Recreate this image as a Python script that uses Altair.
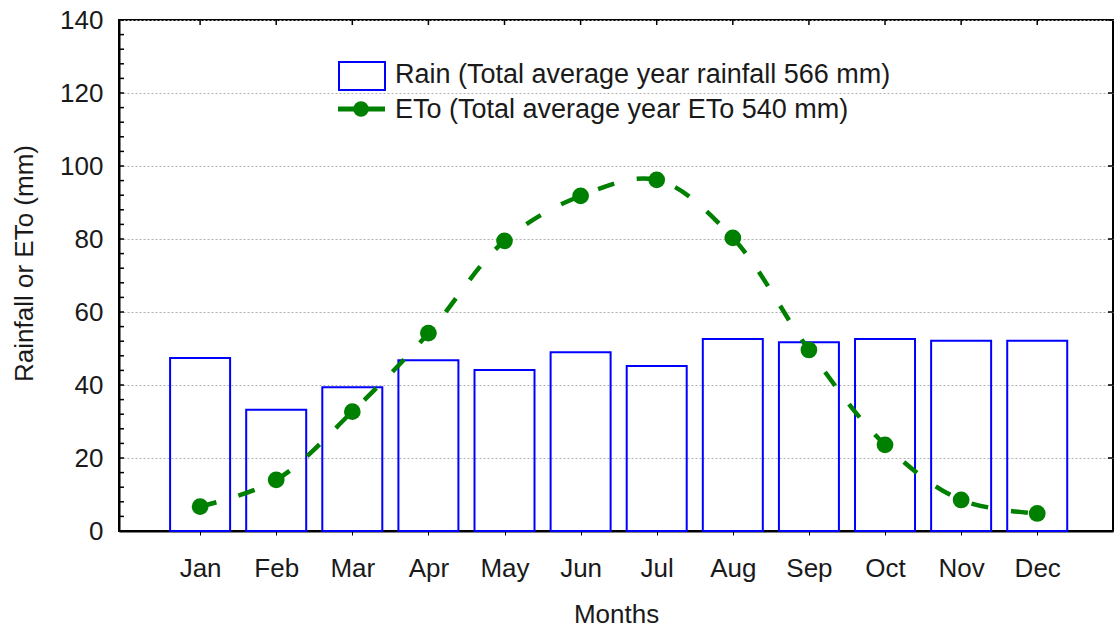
import json
import altair as alt
import pandas as pd

months = ["Jan", "Feb", "Mar", "Apr", "May", "Jun", "Jul", "Aug", "Sep", "Oct", "Nov", "Dec"]
rain = [47.4, 33.2, 39.4, 46.8, 44.1, 49.0, 45.2, 52.6, 51.7, 52.6, 52.1, 52.1]
eto = [6.7, 14.0, 32.7, 54.2, 79.5, 91.8, 96.2, 80.3, 49.6, 23.6, 8.5, 4.8]
legend_labels = ["Rain (Total average year rainfall 566 mm)", "ETo (Total average year ETo 540 mm)"]
y_ticks = list(range(0, 141, 20))
minor_ticks = list(range(0, 141, 4))

FONT = "Liberation Sans"
BLUE = "#0000FF"
GREEN = "#008000"
W, H = 994, 511

df = pd.DataFrame({"idx": list(range(1, 13)), "month": months, "rain": rain, "eto": eto})
minor_df = pd.DataFrame({"v": minor_ticks})
major_df = pd.DataFrame({"v": y_ticks})

xscale = alt.Scale(domain=[0, 12.93], nice=False, zero=False)
yscale = alt.Scale(domain=[0, 140], nice=False)
label_expr = json.dumps(months) + "[datum.value - 1]"

xaxis = alt.Axis(values=list(range(1, 13)), labelExpr=label_expr, title="Months",
                 grid=False, tickSize=4, tickColor="black", domainColor="black",
                 domainWidth=2, labelFontSize=26, labelFont=FONT, labelColor="#1a1a1a",
                 labelPadding=20, titleFontSize=26, titleFont=FONT, titleFontWeight="normal",
                 titleColor="#1a1a1a", titlePadding=20)
yaxis = alt.Axis(values=y_ticks, title="Rainfall or ETo (mm)", grid=True, gridDash=[2, 2],
                 gridColor="#b0b0b0", gridWidth=1, tickSize=0, domainColor="black",
                 domainWidth=2, labelFontSize=26, labelFont=FONT, labelColor="#1a1a1a",
                 labelPadding=16, titleFontSize=26, titleFont=FONT, titleFontWeight="normal",
                 titleColor="#1a1a1a", titlePadding=22, titleY=243)

base = alt.Chart(df)

bars = base.mark_bar(width=60, fill="white", fillOpacity=0, stroke=BLUE, strokeWidth=2).encode(
    x=alt.X("idx:Q", scale=xscale, axis=xaxis),
    y=alt.Y("rain:Q", scale=yscale, axis=yaxis),
)

line = base.mark_line(color=GREEN, strokeWidth=4.5, strokeDash=[17, 23],
                      interpolate="catmull-rom").encode(
    x=alt.X("idx:Q", scale=xscale), y=alt.Y("eto:Q", scale=yscale))

points = base.mark_circle(color=GREEN, opacity=1, size=280).encode(
    x=alt.X("idx:Q", scale=xscale), y=alt.Y("eto:Q", scale=yscale))

left_ticks = alt.Chart(minor_df).mark_rule(color="black", strokeWidth=1.5).encode(
    y=alt.Y("v:Q", scale=yscale), x=alt.value(0), x2=alt.value(5))
right_ticks = alt.Chart(major_df).mark_rule(color="black", strokeWidth=1.5).encode(
    y=alt.Y("v:Q", scale=yscale), x=alt.value(W - 5), x2=alt.value(W))
top_ticks = base.mark_rule(color="black", strokeWidth=1.5).encode(
    x=alt.X("idx:Q", scale=xscale), y=alt.value(0), y2=alt.value(5))

leg_df = pd.DataFrame({"label": legend_labels})
leg_rect = alt.Chart(leg_df.iloc[[0]]).mark_rect(fill="white", stroke=BLUE, strokeWidth=2).encode(
    x=alt.value(220), x2=alt.value(266), y=alt.value(42), y2=alt.value(70))
leg_line = alt.Chart(leg_df.iloc[[1]]).mark_rule(color=GREEN, strokeWidth=5).encode(
    x=alt.value(219), x2=alt.value(266), y=alt.value(89))
leg_pt = alt.Chart(leg_df.iloc[[1]]).mark_circle(color=GREEN, opacity=1, size=240).encode(
    x=alt.value(242), y=alt.value(89))
leg_text1 = alt.Chart(leg_df.iloc[[0]]).mark_text(align="left", baseline="middle", font=FONT,
                                                  fontSize=27, color="#1a1a1a").encode(
    x=alt.value(276), y=alt.value(55), text="label:N")
leg_text2 = alt.Chart(leg_df.iloc[[1]]).mark_text(align="left", baseline="middle", font=FONT,
                                                  fontSize=27, color="#1a1a1a").encode(
    x=alt.value(276), y=alt.value(90), text="label:N")

chart = alt.layer(bars, line, points, left_ticks, right_ticks, top_ticks,
                  leg_rect, leg_line, leg_pt, leg_text1, leg_text2).properties(
    width=W, height=H,
    autosize=alt.AutoSizeParams(type="none"),
    padding={"left": 119, "top": 20, "right": 1, "bottom": 99},
    background="white",
).configure_view(stroke="black", strokeWidth=2)

chart.save("out.html", embed_options={"renderer": "svg", "actions": False})
